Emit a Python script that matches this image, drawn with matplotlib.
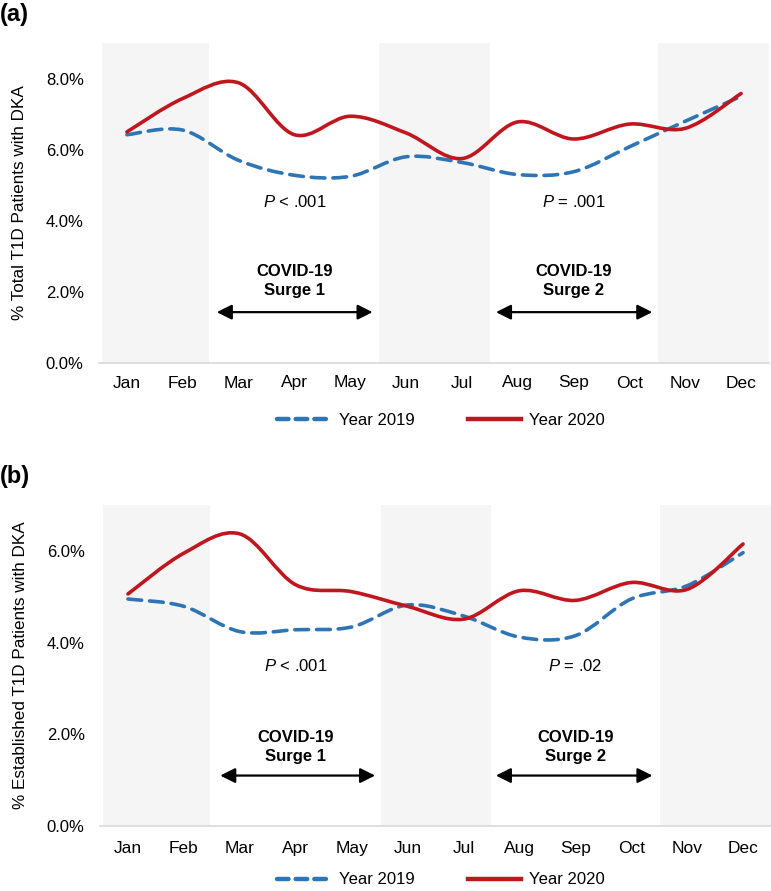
import matplotlib
matplotlib.use("Agg")
import matplotlib.pyplot as plt
from matplotlib.path import Path
from matplotlib.patches import PathPatch
from matplotlib.lines import Line2D
import numpy as np

plt.rcParams['font.family'] = ['Liberation Sans', 'DejaVu Sans']
plt.rcParams['mathtext.fontset'] = 'custom'
plt.rcParams['mathtext.rm'] = 'Liberation Sans'
plt.rcParams['mathtext.it'] = 'Liberation Sans:italic'

months = ['Jan', 'Feb', 'Mar', 'Apr', 'May', 'Jun', 'Jul', 'Aug', 'Sep', 'Oct', 'Nov', 'Dec']

# Panel (a): % Total T1D patients with DKA
total_2019 = [6.42, 6.55, 5.70, 5.28, 5.25, 5.80, 5.64, 5.30, 5.38, 6.08, 6.80, 7.50]
total_2020 = [6.50, 7.44, 7.88, 6.42, 6.94, 6.47, 5.75, 6.78, 6.30, 6.72, 6.60, 7.58]

# Panel (b): % Established T1D patients with DKA
est_2019 = [4.95, 4.79, 4.24, 4.28, 4.34, 4.82, 4.58, 4.12, 4.15, 4.95, 5.24, 5.96]
est_2020 = [5.06, 5.95, 6.37, 5.26, 5.11, 4.79, 4.51, 5.13, 4.92, 5.31, 5.16, 6.15]

p_texts_a = [r'$P$ < .001', r'$P$ = .001']
p_texts_b = [r'$P$ < .001', r'$P$ = .02']
surge_labels = ['COVID-19\nSurge 1', 'COVID-19\nSurge 2']
legend_labels = ['Year 2019', 'Year 2020']

BLUE = '#2E75B6'
RED = '#C0161E'
BAND = '#F5F5F5'


def smooth_path(xs, ys):
    pts = np.column_stack([xs, ys]).astype(float)
    n = len(pts)
    verts = [pts[0]]
    codes = [Path.MOVETO]
    for i in range(n - 1):
        p0 = pts[i - 1] if i > 0 else pts[i]
        p1 = pts[i]
        p2 = pts[i + 1]
        p3 = pts[i + 2] if i + 2 < n else pts[i + 1]
        c1 = p1 + (p2 - p0) / 6.0
        c2 = p2 - (p3 - p1) / 6.0
        verts += [c1, c2, p2]
        codes += [Path.CURVE4] * 3
    return Path(verts, codes)


fig = plt.figure(figsize=(7.71, 8.91), dpi=100)

panels = [
    dict(rect=[99 / 771, 1 - 363 / 891, 670 / 771, 320 / 891], d19=total_2019, d20=total_2020,
         ymax=9.0, ylabel='% Total T1D Patients with DKA', ptexts=p_texts_a,
         p_y=4.53, c_y=2.30, arrow_y=1.43, arrows=[(1.61, 4.40), (6.61, 9.41)],
         tag='(a)', tag_y=1 - 15 / 891, leg_y=1 - 420 / 891, xpad=9),
    dict(rect=[100 / 771, 1 - 826 / 891, 671 / 771, 321 / 891], d19=est_2019, d20=est_2020,
         ymax=7.0, ylabel='% Established T1D Patients with DKA', ptexts=p_texts_b,
         p_y=3.49, c_y=1.73, arrow_y=1.10, arrows=[(1.65, 4.42), (6.58, 9.38)],
         tag='(b)', tag_y=1 - 476 / 891, leg_y=1 - 880 / 891, xpad=11),
]

bands = [(-0.45, 1.47), (4.52, 6.5), (9.52, 11.5)]
x = np.arange(len(months))

for p in panels:
    ax = fig.add_axes(p['rect'])
    ax.set_xlim(-0.5, 11.5)
    ax.set_ylim(0, p['ymax'])
    for b0, b1 in bands:
        ax.axvspan(b0, b1, color=BAND, zorder=0, lw=0)

    blue = PathPatch(smooth_path(x, p['d19']), fill=False, edgecolor=BLUE, lw=2.6,
                     linestyle=(0, (3.8, 2.2)), capstyle='round', zorder=3)
    red = PathPatch(smooth_path(x, p['d20']), fill=False, edgecolor=RED, lw=2.6,
                    capstyle='round', zorder=4)
    ax.add_patch(blue)
    ax.add_patch(red)

    for s in ['top', 'right', 'left']:
        ax.spines[s].set_visible(False)
    ax.spines['bottom'].set_color('#D9D9D9')
    ax.spines['bottom'].set_linewidth(1.2)

    ax.set_xticks(x)
    ax.set_xticklabels(months, fontsize=12.5)
    ax.set_yticks(np.arange(0, p['ymax'] - 0.5, 2.0))
    ax.set_yticklabels([f'{v:.1f}%' for v in np.arange(0, p['ymax'] - 0.5, 2.0)], fontsize=12)
    ax.tick_params(axis='both', length=0, colors='#000000')
    ax.tick_params(axis='y', pad=11)
    ax.tick_params(axis='x', pad=p['xpad'])
    ax.set_ylabel(p['ylabel'], fontsize=12.3)
    ax.yaxis.set_label_coords(-0.108, 0.5)

    centers = [3.0, 8.0]
    for cx, pt in zip(centers, p['ptexts']):
        ax.text(cx, p['p_y'], pt, ha='center', va='center', fontsize=12)
    for cx, sl in zip(centers, surge_labels):
        ax.text(cx, p['c_y'], sl, ha='center', va='center', fontsize=12,
                fontweight='bold', linespacing=1.35)
    for a0, a1 in p['arrows']:
        ax.annotate('', xy=(a1, p['arrow_y']), xytext=(a0, p['arrow_y']),
                    arrowprops=dict(arrowstyle='<|-|>,head_length=0.5,head_width=0.25',
                                    color='black', lw=1.6, mutation_scale=18,
                                    shrinkA=0, shrinkB=0))

    handles = [Line2D([], [], color=BLUE, lw=3.2, linestyle=(0, (2.6, 1.6)),
                      dash_capstyle='round'),
               Line2D([], [], color=RED, lw=3.2)]
    ax.legend(handles, legend_labels, loc='center', ncol=2, frameon=False,
              bbox_to_anchor=(0.572, p['leg_y']), bbox_transform=fig.transFigure,
              fontsize=12, handlelength=3.2, handletextpad=0.5, columnspacing=3.2)

    fig.text(0.0, p['tag_y'], p['tag'], fontsize=17, fontweight='bold',
             ha='left', va='center')

fig.savefig('out.png', dpi=100)
